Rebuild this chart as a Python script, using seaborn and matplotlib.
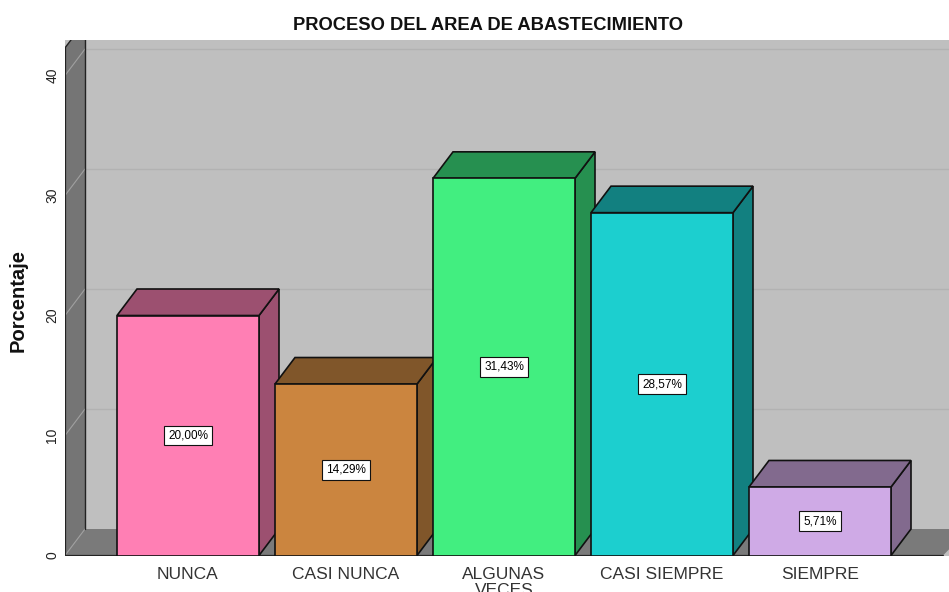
import pandas as pd
import matplotlib
matplotlib.use('Agg')
import matplotlib.pyplot as plt
import seaborn as sns

categorias = ['NUNCA', 'CASI NUNCA', 'ALGUNAS\nVECES', 'CASI SIEMPRE', 'SIEMPRE']
porcentajes = [20.00, 14.29, 31.43, 28.57, 5.71]
etiquetas = ['20,00%', '14,29%', '31,43%', '28,57%', '5,71%']
ticks_y = [0, 10, 20, 30, 40]

colores = ['#FF7FB4', '#CB853F', '#42EE80', '#1CCFCF', '#CFAAE6']
colores_oscuros = ['#9C5070', '#80562A', '#269050', '#128080', '#826A8E']

sns.set_theme(style='white')
plt.rcParams['font.family'] = ['Liberation Sans', 'DejaVu Sans']

W, H = 949, 592
fig = plt.figure(figsize=(W / 100, H / 100), dpi=100)
# el eje cubre desde la pared izquierda hasta el borde derecho
ax = fig.add_axes([65 / W, (H - 555.5) / H, (W - 65) / W, (555.5 - 40) / H])

datos = pd.DataFrame({'categoria': categorias, 'porcentaje': porcentajes})
sns.barplot(data=datos, x='categoria', y='porcentaje', hue='categoria',
            palette=colores, legend=False, width=142 / 158,
            edgecolor='#111111', linewidth=1.2, saturation=1, ax=ax)

# escalas: 158 px por categoria, 12 px por unidad de porcentaje
ax.set_xlim((65 - 188) / 158, (949 - 188) / 158)
ax.set_ylim(0, (555.5 - 40) / 12)
dx = 20 / 158
dy = 26.5 / 12
x_izq = ax.get_xlim()[0]
x_der = ax.get_xlim()[1]
alto = 42.3

ax.set_facecolor('#BFBFBF')
for s in ax.spines.values():
    s.set_visible(False)

# piso y pared
x_fin = (943 - 188) / 158
ax.fill([x_izq, x_izq + dx, x_der + dx, x_fin], [0, dy, dy, 0], color='#7A7A7A', lw=0, zorder=1)
ax.fill([x_izq, x_izq + dx, x_izq + dx, x_izq], [0, dy, alto + dy, alto], color='#757575', lw=0, zorder=1)
ax.plot([x_izq, x_fin], [0, 0], color='#222222', lw=1.6, zorder=2)
ax.plot([x_izq, x_izq], [0, alto], color='#222222', lw=1.6, zorder=2)
ax.plot([x_izq + dx, x_izq + dx], [dy, alto + dy], color='#222222', lw=1.0, zorder=2)
ax.plot([x_izq, x_izq + dx], [alto, alto + dy], color='#222222', lw=1.0, zorder=2)

# lineas de rejilla en pared y fondo
for t in ticks_y:
    ax.plot([x_izq, x_izq + dx], [t, t + dy], color='#A0A0A0', lw=0.8, zorder=1.5)
    if t > 0:
        ax.plot([x_izq + dx, x_der], [t + dy, t + dy], color='#B2B2B2', lw=1.0, zorder=1.5)

# caras laterales y superiores de cada barra
for i, (barra, oscuro) in enumerate(zip(ax.patches, colores_oscuros)):
    x0 = barra.get_x()
    x1 = x0 + barra.get_width()
    h = barra.get_height()
    base = 3 + i * 2
    ax.fill([x1, x1 + dx, x1 + dx, x1], [0, dy, h + dy, h], facecolor=oscuro,
            edgecolor='#111111', lw=1.2, zorder=base)
    ax.fill([x0, x0 + dx, x1 + dx, x1], [h, h + dy, h + dy, h], facecolor=oscuro,
            edgecolor='#111111', lw=1.2, zorder=base)
    barra.set_zorder(base + 1)
    ax.text(i, h / 2, etiquetas[i], ha='center', va='center', fontsize=8.5,
            color='black', zorder=20,
            bbox=dict(facecolor='white', edgecolor='#111111', lw=0.8, boxstyle='square,pad=0.33'))

ax.set_xticks(range(len(categorias)))
ax.set_xticklabels(categorias, fontsize=12.5, color='#333333', linespacing=1.1)
ax.set_yticks(ticks_y)
ax.set_yticklabels([str(t) for t in ticks_y], rotation=90, va='center', fontsize=10, color='#222222')
ax.tick_params(axis='both', length=0)
ax.tick_params(axis='x', pad=8)
ax.tick_params(axis='y', pad=4)
ax.set_xlabel('')
ax.set_ylabel('')

fig.text(18 / W, 1 - 301 / H, 'Porcentaje', rotation=90, ha='center', va='center',
         fontsize=14.5, fontweight='bold', color='#111111')
fig.text(488 / W, 1 - 25 / H, 'PROCESO DEL AREA DE ABASTECIMIENTO', ha='center', va='center',
         fontsize=13.2, fontweight='bold', color='#111111')

fig.savefig('out.png', dpi=100)
